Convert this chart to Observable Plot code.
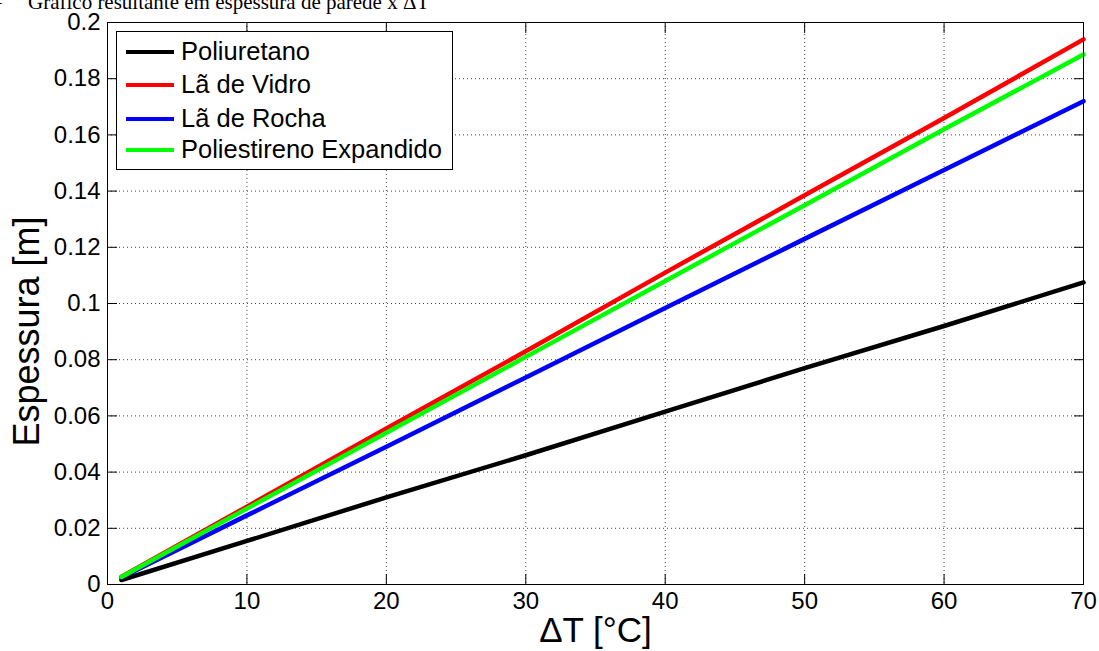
<!DOCTYPE html>
<html><head><meta charset="utf-8">
<script src="https://cdn.jsdelivr.net/npm/d3@7"></script>
<script src="https://cdn.jsdelivr.net/npm/@observablehq/plot@0.6"></script>
<style>
html,body{margin:0;padding:0;background:#fff;overflow:hidden}
#wrap{position:relative;width:1099px;height:651px}
#chart{position:absolute;left:0;top:0}
#title{position:absolute;left:28px;top:-10px;font-family:"Liberation Serif","Times New Roman",serif;font-size:21px;white-space:nowrap;color:#000}
#dash{position:absolute;left:-9px;top:-10px;font-family:"Liberation Serif","Times New Roman",serif;font-size:21px;color:#000}
#legend{position:absolute;left:116px;top:31px;width:337px;height:139px;border:1px solid #000;background:#fff;box-sizing:border-box;font-family:"Liberation Sans",Arial,sans-serif;font-size:25.5px;color:#000}
.row{position:absolute;left:9px;height:33px;display:flex;align-items:center;white-space:nowrap}
.sw{width:48px;height:4px;margin-right:7px}
</style></head><body>
<div id="wrap"><div id="chart"></div><div id="dash">–</div><div id="title">Gráfico resultante em espessura de parede x ΔT</div><div id="legend"></div></div>
<script>
const xTicks = [0, 10, 20, 30, 40, 50, 60, 70];
const xTickLabels = ["0", "10", "20", "30", "40", "50", "60", "70"];
const yTicks = [0, 0.02, 0.04, 0.06, 0.08, 0.1, 0.12, 0.14, 0.16, 0.18, 0.2];
const yTickLabels = ["0", "0.02", "0.04", "0.06", "0.08", "0.1", "0.12", "0.14", "0.16", "0.18", "0.2"];
const seriesNames = ["Poliuretano", "Lã de Vidro", "Lã de Rocha", "Poliestireno Expandido"];
const seriesColors = ["#000000", "#ff0000", "#0000ff", "#00ff00"];
const deltaT = [1, 10, 20, 30, 40, 50, 60, 70];
const poliuretano = [0.0016, 0.0155, 0.031, 0.046, 0.0615, 0.077, 0.092, 0.1075];
const laVidro = [0.0028, 0.0277, 0.0555, 0.083, 0.111, 0.1385, 0.166, 0.194];
const laRocha = [0.0025, 0.0246, 0.049, 0.0737, 0.0984, 0.123, 0.1475, 0.172];
const poliestireno = [0.0027, 0.027, 0.054, 0.081, 0.108, 0.135, 0.162, 0.1886];
const xLabel = "ΔT [°C]";
const yLabel = "Espessura [m]";

const seriesValues = [poliuretano, laVidro, laRocha, poliestireno];
const rows = [];
seriesValues.forEach((vals, i) => vals.forEach((v, j) => rows.push({x: deltaT[j], y: v, s: seriesNames[i]})));

const grid = {stroke: "#444", strokeOpacity: 1, strokeWidth: 1, strokeDasharray: "1,3"};
const fmtX = d => xTickLabels[xTicks.indexOf(d)];
const fmtY = d => yTickLabels[yTicks.indexOf(d)];

const chart = Plot.plot({
  width: 1099, height: 651,
  marginLeft: 107, marginRight: 16, marginTop: 22, marginBottom: 67,
  style: {fontFamily: '"Liberation Sans", Arial, sans-serif', fontSize: "24px", color: "#000", background: "#fff", overflow: "visible"},
  x: {domain: [0, 70], label: null},
  y: {domain: [0, 0.2], label: null},
  color: {domain: seriesNames, range: seriesColors},
  marks: [
    Plot.gridX(xTicks, grid),
    Plot.gridY(yTicks, grid),
    Plot.line(rows, {x: "x", y: "y", z: "s", stroke: "s", strokeWidth: 4.5}),
    Plot.frame({stroke: "#000", strokeWidth: 1}),
    Plot.axisX(xTicks, {anchor: "bottom", tickSize: -10, tickPadding: 17, tickFormat: fmtX, label: null, fontSize: 24}),
    Plot.axisX(xTicks, {anchor: "top", tickSize: -10, tickFormat: () => "", label: null}),
    Plot.axisY(yTicks, {anchor: "left", tickSize: -10, tickPadding: 17, tickFormat: fmtY, label: null, fontSize: 24}),
    Plot.axisY(yTicks, {anchor: "right", tickSize: -10, tickFormat: () => "", label: null}),
    Plot.text([xLabel], {frameAnchor: "bottom", dy: 46, lineAnchor: "middle", textAnchor: "middle", fontSize: 35}),
    Plot.text([yLabel], {frameAnchor: "left", dx: -80, dy: 28, rotate: -90, lineAnchor: "middle", textAnchor: "middle", fontSize: 36})
  ]
});
document.getElementById("chart").appendChild(chart);

const legend = document.getElementById("legend");
const rowTops = [3, 36, 70, 101];
seriesNames.forEach((n, i) => {
  const r = document.createElement("div");
  r.className = "row";
  r.style.top = rowTops[i] + "px";
  const sw = document.createElement("div");
  sw.className = "sw";
  sw.style.background = seriesColors[i];
  const t = document.createElement("span");
  t.textContent = n;
  r.appendChild(sw); r.appendChild(t);
  legend.appendChild(r);
});
</script>
</body></html>
